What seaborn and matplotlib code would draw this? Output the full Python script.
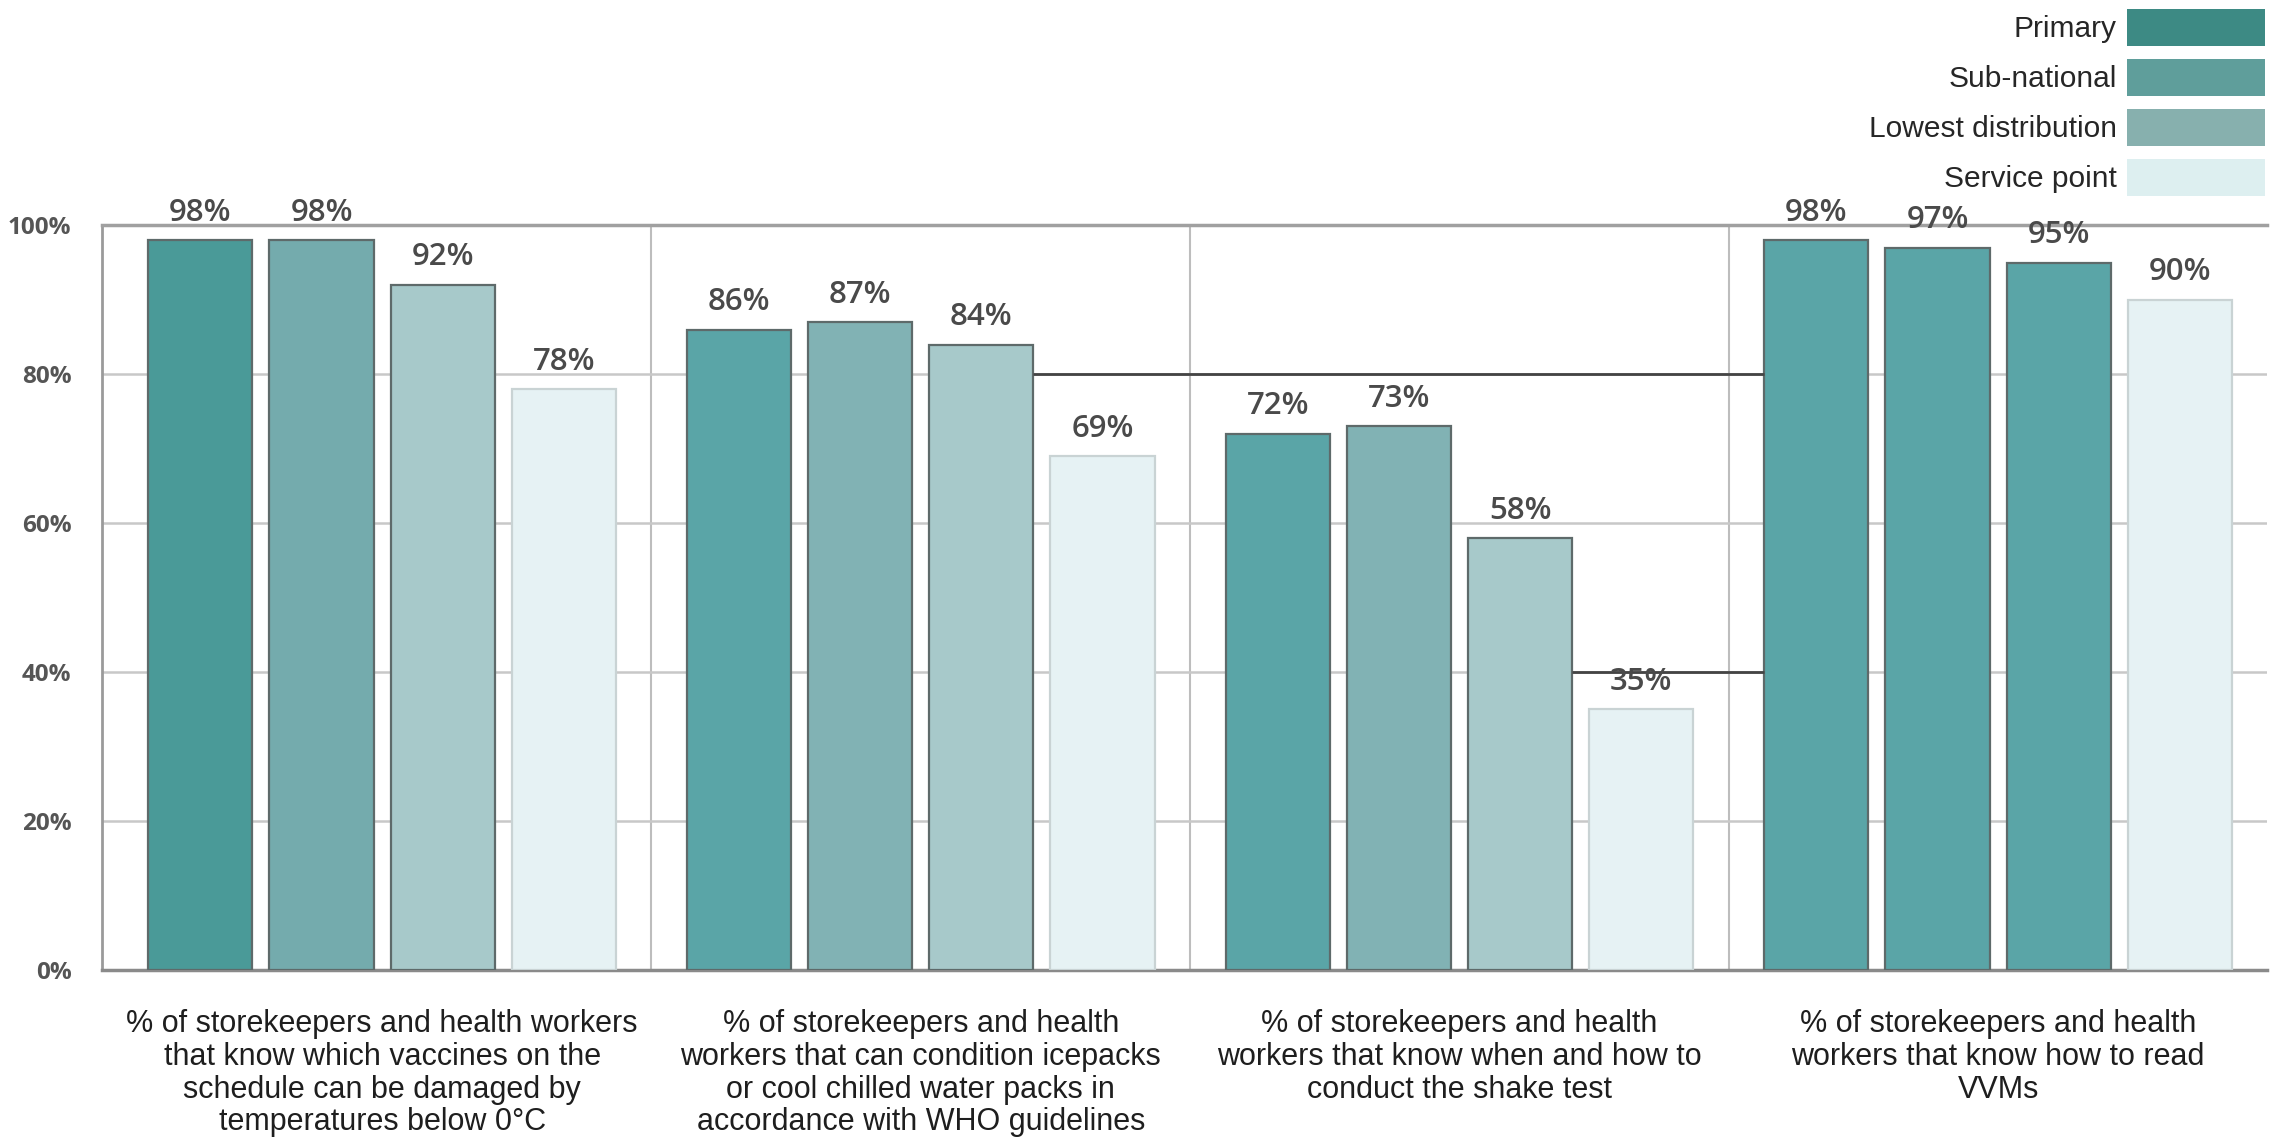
import matplotlib
matplotlib.use("Agg")
import matplotlib.pyplot as plt
from matplotlib.patches import Patch
import seaborn as sns
import pandas as pd

# Knowledge indicators (x categories)
categories = [
    "% of storekeepers and health workers\nthat know which vaccines on the\nschedule can be damaged by\ntemperatures below 0°C",
    "% of storekeepers and health\nworkers that can condition icepacks\nor cool chilled water packs in\naccordance with WHO guidelines",
    "% of storekeepers and health\nworkers that know when and how to\nconduct the shake test",
    "% of storekeepers and health\nworkers that know how to read\nVVMs",
]
levels = ["Primary", "Sub-national", "Lowest distribution", "Service point"]

primary = [98, 86, 72, 98]
sub_national = [98, 87, 73, 97]
lowest_distribution = [92, 84, 58, 95]
service_point = [78, 69, 35, 90]

legend_colors = ["#3d8a84", "#5f9e9b", "#87b0ae", "#ddeff0"]
# fill colour of each bar, one row per category, one column per level
bar_colors = [
    ["#4a9a98", "#74abad", "#a7c9ca", "#e6f2f4"],
    ["#5aa5a7", "#81b2b4", "#a7c9ca", "#e6f2f4"],
    ["#5aa5a7", "#81b2b4", "#a7c9ca", "#e6f2f4"],
    ["#5aa5a7", "#5aa5a7", "#5aa5a7", "#e6f2f4"],
]

series = [primary, sub_national, lowest_distribution, service_point]
df = pd.DataFrame(
    [(c, lv, v) for lv, vals in zip(levels, series) for c, v in zip(categories, vals)],
    columns=["indicator", "level", "value"],
)

sns.set_theme(style="white")
plt.rcParams["font.family"] = ["Liberation Sans", "DejaVu Sans"]

fig = plt.figure(figsize=(22.77, 11.44), dpi=100)
ax = fig.add_axes([0.0448, 0.152, 0.951, 0.651])

sns.barplot(
    data=df, x="indicator", y="value", hue="level", order=categories,
    hue_order=levels, palette=legend_colors, width=0.9, gap=0.14,
    legend=False, ax=ax, zorder=3,
)

# recolour bars and add value labels
bars = [p for p in ax.patches]
n_cat = len(categories)
for li in range(len(levels)):
    for ci in range(n_cat):
        p = bars[li * n_cat + ci]
        p.set_facecolor(bar_colors[ci][li])
        edge = "#c9d3d4" if li == 3 else "#5e6a6a"
        p.set_edgecolor(edge)
        p.set_linewidth(1.6)
        v = series[li][ci]
        ax.annotate(f"{v}%", (p.get_x() + p.get_width() / 2, v),
                    xytext=(0, 9), textcoords="offset points",
                    ha="center", va="bottom", fontsize=22.5,
                    family="Open Sans", fontweight="semibold",
                    color="#4a4a4a", annotation_clip=False, zorder=5)

# dark connector lines between groups
b_g2_low = bars[2 * n_cat + 1]
b_g3_low = bars[2 * n_cat + 2]
b_g4_pri = bars[0 * n_cat + 3]
ax.hlines(80, b_g2_low.get_x() + b_g2_low.get_width(), b_g4_pri.get_x(),
          color="#444444", lw=2, zorder=4)
ax.hlines(40, b_g3_low.get_x() + b_g3_low.get_width(), b_g4_pri.get_x(),
          color="#444444", lw=2, zorder=4)

ax.set_xlim(-0.52, 3.5)
ax.set_ylim(0, 100)
ax.set_yticks([0, 20, 40, 60, 80, 100])
ax.set_yticklabels([f"{t}%" for t in [0, 20, 40, 60, 80, 100]],
                   family="Open Sans", fontweight="bold", fontsize=17.5, color="#555555")
ax.tick_params(axis="y", length=0, pad=22)
ax.tick_params(axis="x", length=0, pad=28, labelsize=22, labelcolor="#1e1e1e")
for lbl in ax.get_xticklabels():
    lbl.set_linespacing(1.12)
ax.set_xlabel("")
ax.set_ylabel("")

ax.grid(axis="y", color="#c8c8c8", lw=1.8, zorder=0)
for xv in [0.5, 1.5, 2.5]:
    ax.axvline(xv, color="#bdbdbd", lw=1.5, zorder=0)

for side in ["left", "bottom", "top"]:
    ax.spines[side].set_visible(True)
ax.spines["right"].set_visible(False)
ax.spines["left"].set_color("#9a9a9a")
ax.spines["left"].set_linewidth(2)
ax.spines["bottom"].set_color("#8a8a8a")
ax.spines["bottom"].set_linewidth(2.5)
ax.spines["top"].set_color("#a0a0a0")
ax.spines["top"].set_linewidth(2.5)

handles = [Patch(facecolor=c, edgecolor="none") for c in legend_colors]
fig.legend(handles, levels, loc="upper right", bbox_to_anchor=(0.9985, 1.0),
           markerfirst=False, frameon=False, handlelength=4.6, handleheight=1.55,
           handletextpad=0.35, labelspacing=0.42, fontsize=21.5, borderaxespad=0.1,
           borderpad=0.2)

fig.savefig("out.png", dpi=100, facecolor="white")
